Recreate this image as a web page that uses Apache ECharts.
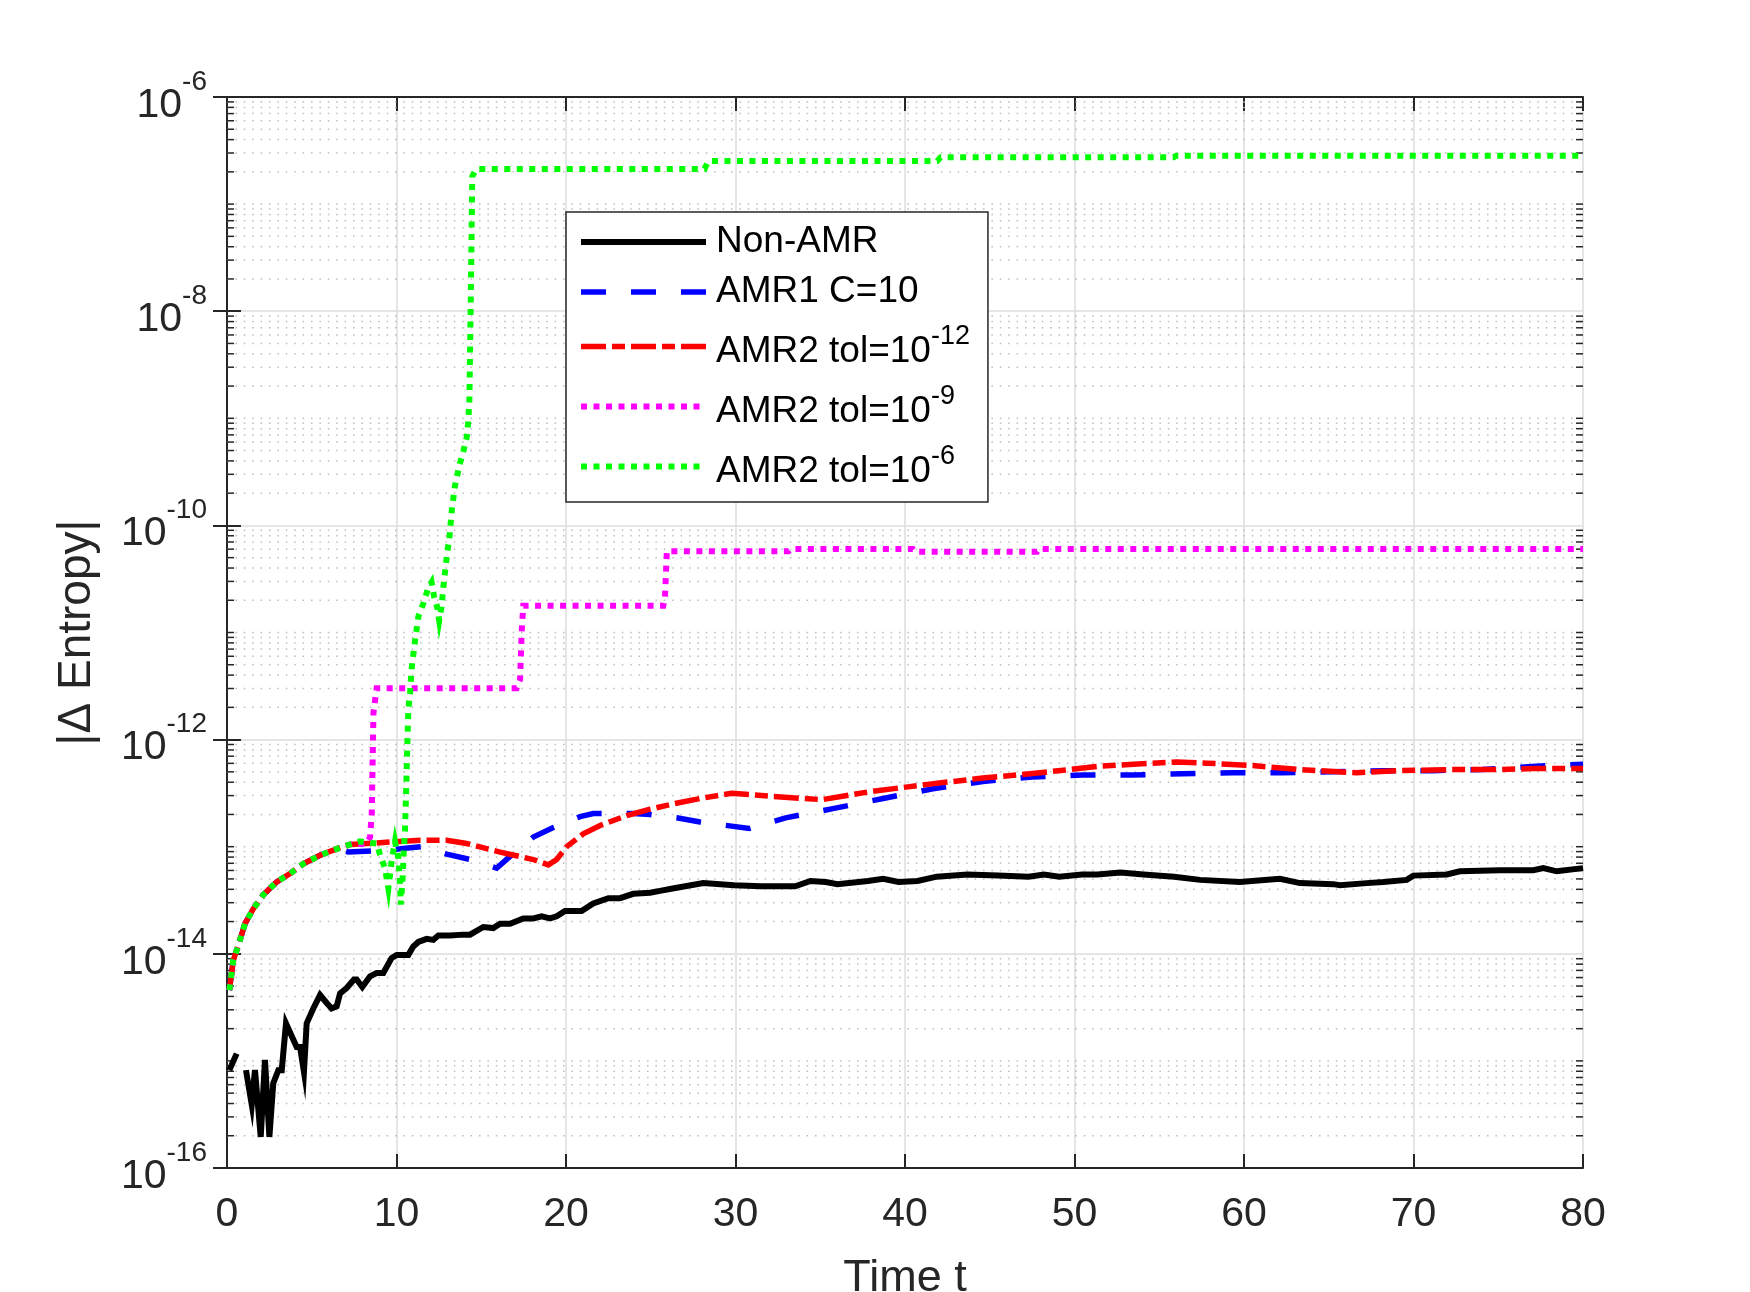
<!DOCTYPE html>
<html>
<head>
<meta charset="utf-8">
<script src="https://cdn.jsdelivr.net/npm/echarts@6/dist/echarts.min.js"></script>
<style>
  html, body { margin: 0; padding: 0; background: #fff; }
  #chart { width: 1750px; height: 1292px; }
</style>
</head>
<body>
<div id="chart"></div>
<script>
// time axis values and |delta entropy|
const nonAmrT = [0.14, 0.57, 0.85, 1.12, 1.46, 1.65, 1.99, 2.24, 2.50, 2.73, 3.03, 3.23, 3.48, 4.11, 4.31, 4.54, 4.70, 5.09, 5.49, 5.88,
  6.17, 6.47, 6.67, 7.06, 7.49, 7.65, 7.98, 8.44, 8.83, 9.22, 9.71, 10.01, 10.70, 10.99, 11.29, 11.78, 12.17, 12.47, 13.16, 13.94,
  14.34, 15.12, 15.71, 16.11, 16.70, 17.48, 18.07, 18.56, 19.06, 19.45, 19.94, 20.43, 20.92, 21.61, 22.50, 23.19, 23.97, 24.96, 25.62, 26.29,
  28.10, 29.91, 31.49, 33.52, 34.42, 35.33, 36.01, 37.81, 38.71, 39.62, 40.74, 41.87, 43.68, 45.49, 47.29, 48.20, 49.10, 50.45, 51.36, 52.71,
  54.07, 55.87, 57.41, 59.76, 62.12, 63.30, 65.27, 65.66, 67.24, 68.22, 69.60, 69.99, 71.96, 72.74, 75.10, 77.07, 77.66, 78.45, 80.00];
const nonAmrV = [8.2e-16, 1.17e-15, null, 8.2e-16, 3.9e-16, 8.2e-16, 1.95e-16, 1.02e-15, 1.95e-16, 6.2e-16, 8.2e-16, 8.2e-16, 2.24e-15, 1.35e-15, 1.35e-15, 7.9e-16, 2.24e-15, 3.09e-15, 4.12e-15, 3.47e-15,
  3.09e-15, 3.24e-15, 4.27e-15, 4.79e-15, 5.75e-15, 5.75e-15, 4.9e-15, 6.17e-15, 6.61e-15, 6.61e-15, 9.12e-15, 9.77e-15, 9.77e-15, 1.17e-14, 1.29e-14, 1.38e-14, 1.35e-14, 1.48e-14, 1.48e-14, 1.51e-14,
  1.51e-14, 1.78e-14, 1.74e-14, 1.91e-14, 1.91e-14, 2.14e-14, 2.14e-14, 2.24e-14, 2.14e-14, 2.24e-14, 2.51e-14, 2.51e-14, 2.51e-14, 2.95e-14, 3.31e-14, 3.31e-14, 3.63e-14, 3.72e-14, 3.89e-14, 4.07e-14,
  4.57e-14, 4.37e-14, 4.27e-14, 4.27e-14, 4.79e-14, 4.68e-14, 4.47e-14, 4.79e-14, 5.01e-14, 4.68e-14, 4.79e-14, 5.25e-14, 5.5e-14, 5.37e-14, 5.25e-14, 5.5e-14, 5.25e-14, 5.5e-14, 5.5e-14, 5.75e-14,
  5.5e-14, 5.25e-14, 4.9e-14, 4.68e-14, 5.01e-14, 4.57e-14, 4.47e-14, 4.37e-14, 4.57e-14, 4.68e-14, 4.9e-14, 5.37e-14, 5.5e-14, 5.89e-14, 6.03e-14, 6.03e-14, 6.31e-14, 5.89e-14, 6.31e-14];

const amr1T = [0.14, 0.37, 0.67, 1.06, 1.55, 2.14, 2.93, 3.72, 4.50, 5.49, 6.47, 7.16, 8.53, 10.21, 11.49, 12.96, 14.34, 15.91, 16.70, 18.07,
  19.25, 20.83, 21.61, 23.97, 24.96, 26.53, 27.91, 30.81, 32.96, 35.89, 38.71, 41.65, 44.59, 47.52, 50.45, 53.42, 56.37, 59.32, 62.27, 65.22,
  68.17, 71.11, 74.06, 77.01, 80.00];
const amr1V = [4.57e-15, 8.71e-15, 1.2e-14, 1.91e-14, 2.63e-14, 3.55e-14, 4.68e-14, 5.62e-14, 6.92e-14, 8.32e-14, 9.55e-14, 8.91e-14, 9.12e-14, 9.55e-14, 1.0e-13, 8.51e-14, 7.59e-14, 6.31e-14, 8.13e-14, 1.23e-13,
  1.51e-13, 1.91e-13, 2.04e-13, 2.04e-13, 2.0e-13, 1.86e-13, 1.7e-13, 1.48e-13, 1.86e-13, 2.29e-13, 2.82e-13, 3.47e-13, 4.07e-13, 4.47e-13, 4.68e-13, 4.68e-13, 4.79e-13, 4.9e-13, 4.9e-13, 5.01e-13,
  5.13e-13, 5.13e-13, 5.25e-13, 5.62e-13, 5.89e-13];

const tol12T = [0.14, 0.37, 0.67, 1.06, 1.55, 2.14, 2.93, 3.72, 4.50, 5.49, 6.47, 7.26, 8.24, 10.21, 11.39, 12.96, 14.14, 16.11, 18.07, 18.96,
  19.45, 20.04, 21.02, 22.01, 23.58, 24.96, 26.33, 27.91, 29.79, 32.16, 35.10, 37.81, 41.20, 44.59, 47.97, 51.36, 53.47, 56.03, 57.80, 60.36,
  63.30, 66.65, 69.21, 72.16, 75.10, 77.07, 80.00];
const tol12V = [4.57e-15, 8.71e-15, 1.2e-14, 1.91e-14, 2.63e-14, 3.55e-14, 4.68e-14, 5.62e-14, 6.92e-14, 8.32e-14, 9.55e-14, 1.05e-13, 1.07e-13, 1.12e-13, 1.15e-13, 1.15e-13, 1.07e-13, 8.91e-14, 7.59e-14, 6.76e-14,
  7.59e-14, 1.0e-13, 1.32e-13, 1.58e-13, 1.95e-13, 2.24e-13, 2.51e-13, 2.82e-13, 3.16e-13, 2.95e-13, 2.75e-13, 3.24e-13, 3.8e-13, 4.37e-13, 4.9e-13, 5.62e-13, 5.89e-13, 6.17e-13, 6.03e-13, 5.75e-13,
  5.25e-13, 4.9e-13, 5.13e-13, 5.25e-13, 5.25e-13, 5.37e-13, 5.37e-13];

const tol9T = [0.14, 0.37, 0.67, 1.06, 1.55, 2.14, 2.93, 3.72, 4.50, 5.49, 6.47, 7.26, 8.24, 8.44, 8.54, 8.64, 8.83, 17.09, 17.29, 17.39,
  17.48, 25.74, 25.84, 25.95, 33.13, 33.25, 40.46, 40.60, 47.79, 47.90, 80.00];
const tol9V = [4.57e-15, 8.71e-15, 1.2e-14, 1.91e-14, 2.63e-14, 3.55e-14, 4.68e-14, 5.62e-14, 6.92e-14, 8.32e-14, 9.55e-14, 1.05e-13, 1.07e-13, 1.23e-13, 2.04e-13, 1.78e-12, 3.02e-12, 3.02e-12, 3.63e-12, 1.05e-11,
  1.78e-11, 1.78e-11, 2.14e-11, 5.75e-11, 5.75e-11, 6.03e-11, 6.03e-11, 5.69e-11, 5.69e-11, 6.03e-11, 6.03e-11];

const tol6T = [0.14, 0.37, 0.67, 1.06, 1.55, 2.14, 2.93, 3.72, 4.50, 5.49, 6.47, 7.26, 7.85, 8.83, 9.02, 9.32, 9.52, 9.71, 9.91, 10.11,
  10.21, 10.25, 10.37, 10.44, 10.50, 10.56, 10.64, 10.70, 10.80, 10.89, 11.09, 11.29, 11.58, 11.88, 12.07, 12.21, 12.41, 12.52, 12.66, 12.76,
  12.86, 13.00, 13.12, 13.26, 13.45, 13.71, 13.94, 14.14, 14.24, 14.30, 14.37, 14.43, 14.47, 14.72, 28.17, 28.40, 41.90, 42.10, 55.85, 56.00, 80.00];
const tol6V = [4.57e-15, 8.71e-15, 1.2e-14, 1.91e-14, 2.63e-14, 3.55e-14, 4.68e-14, 5.62e-14, 6.92e-14, 8.32e-14, 9.55e-14, 1.05e-13, 1.12e-13, 1.07e-13, 8.51e-14, 6.31e-14, 4.07e-14, 7.24e-14, 1.12e-13, 7.76e-14,
  4.68e-14, 2.88e-14, 5.37e-14, 9.77e-14, 1.41e-13, 2.95e-13, 9.12e-13, 1.91e-12, 2.75e-12, 4.57e-12, 8.32e-12, 1.41e-11, 1.86e-11, 2.63e-11, 2.95e-11, 2.19e-11, 1.7e-11, 1.29e-11, 1.74e-11, 2.63e-11,
  3.63e-11, 5.75e-11, 7.59e-11, 1.38e-10, 2.34e-10, 3.63e-10, 4.9e-10, 6.61e-10, 9.55e-10, 1.48e-9, 9.55e-9, 5.37e-8, 1.82e-7, 2.13e-7, 2.13e-7, 2.52e-7, 2.52e-7, 2.74e-7, 2.74e-7, 2.83e-7, 2.83e-7];

const seriesNames = ['Non-AMR', 'AMR1 C=10', 'AMR2 tol=10^-12', 'AMR2 tol=10^-9', 'AMR2 tol=10^-6'];
const xTicks = [0, 10, 20, 30, 40, 50, 60, 70, 80];

const ink = '#262626';
const font = 'Liberation Sans';

function pairs(ts, vs) {
  return ts.map(function (t, i) { return [t, vs[i]]; });
}

// minor log ticks: 2..9 x 10^k plus the odd decades (major step is two decades)
const minorTicks = [];
for (let k = -16; k < -6; k++) {
  if ((k + 16) % 2 === 1) minorTicks.push([0, Math.pow(10, k)]);
  for (let m = 2; m <= 9; m++) minorTicks.push([0, m * Math.pow(10, k)]);
}

const chart = echarts.init(document.getElementById('chart'));

const supRich = {
  n: { fontSize: 41, lineHeight: 40, verticalAlign: 'bottom', color: ink, fontFamily: font },
  s: { fontSize: 28, lineHeight: 50, verticalAlign: 'top', color: ink, fontFamily: font },
  z: { fontSize: 1, lineHeight: 58, width: 0 }
};

const legendRich = {
  n: { fontSize: 37, lineHeight: 36, verticalAlign: 'bottom', color: '#000', fontFamily: font, padding: [0, 0, 0, 5] },
  s: { fontSize: 27, lineHeight: 47, verticalAlign: 'top', color: '#000', fontFamily: font }
};

const styles = [
  { color: '#000000', type: 'solid', width: 6 },
  { color: '#0000ff', type: [25, 25], width: 5.5 },
  { color: '#ff0000', type: [25, 6, 13, 6], width: 5.5 },
  { color: '#ff00ff', type: [6, 6.5], width: 6 },
  { color: '#00ff00', type: [6, 6.5], width: 6 }
];

function lineSeries(i, ts, vs) {
  const st = styles[i];
  return {
    name: seriesNames[i],
    type: 'line',
    data: pairs(ts, vs),
    symbol: 'none',
    connectNulls: false,
    animation: false,
    lineStyle: { color: st.color, width: st.width, type: st.type, cap: 'butt', join: 'miter' },
    itemStyle: { color: st.color }
  };
}

const option = {
  backgroundColor: '#fff',
  animation: false,
  textStyle: { fontFamily: font, color: ink },
  grid: { left: 227, top: 97, right: 167, bottom: 124, containLabel: false, outerBoundsMode: 'none' },
  legend: {
    data: seriesNames.map(function (name, i) {
      return {
        name: name,
        itemStyle: { opacity: 0 },
        lineStyle: { width: styles[i].width, type: styles[i].type, color: styles[i].color, cap: 'butt' }
      };
    }),
    orient: 'vertical',
    left: 566,
    top: 212,
    padding: [11, 18, 12, 12],
    itemGap: 13,
    itemWidth: 125,
    itemHeight: 14,
    backgroundColor: '#fff',
    borderColor: ink,
    borderWidth: 1.5,
    borderRadius: 0,
    selectedMode: false,
    formatter: function (name) {
      const m = name.match(/^(.*)\^(-?\d+)$/);
      return m ? '{n|' + m[1] + '}{s|' + m[2] + '}' : '{n|' + name + '}';
    },
    textStyle: { rich: legendRich }
  },
  xAxis: [{
    type: 'value',
    min: 0, max: 80, interval: 10,
    name: 'Time t',
    nameLocation: 'middle',
    nameGap: 88,
    nameTextStyle: { fontSize: 45, color: ink, fontFamily: font },
    axisLine: { lineStyle: { color: ink, width: 2 } },
    axisTick: { inside: true, length: 14, lineStyle: { color: ink, width: 2 } },
    axisLabel: {
      margin: 26, fontSize: 41, lineHeight: 41, color: ink, fontFamily: font,
      formatter: function (v) { return xTicks.indexOf(v) >= 0 ? String(v) : ''; }
    },
    splitLine: { show: true, lineStyle: { color: '#dcdcdc', width: 1.5 } }
  }, {
    type: 'value',
    position: 'top',
    min: 0, max: 80, interval: 10,
    axisLine: { lineStyle: { color: ink, width: 2 } },
    axisTick: { inside: true, length: 14, lineStyle: { color: ink, width: 2 } },
    axisLabel: { show: false },
    splitLine: { show: false }
  }],
  yAxis: [{
    type: 'log',
    logBase: 10,
    min: 1e-16, max: 1e-6, interval: 2,
    name: '|\u0394 Entropy|',
    nameLocation: 'middle',
    nameGap: 127,
    nameTextStyle: { fontSize: 46, color: ink, fontFamily: font },
    axisLine: { lineStyle: { color: ink, width: 2 } },
    axisTick: { inside: true, length: 14, lineStyle: { color: ink, width: 2 } },
    axisLabel: {
      margin: 20,
      formatter: function (v) {
        const e = Math.round(Math.log10(v));
        return '{z| }{n|10}{s|' + e + '}';
      },
      rich: supRich
    },
    splitLine: { show: true, lineStyle: { color: '#dcdcdc', width: 1.5 } }
  }, {
    type: 'log',
    logBase: 10,
    position: 'right',
    min: 1e-16, max: 1e-6, interval: 2,
    axisLine: { lineStyle: { color: ink, width: 2 } },
    axisTick: { inside: true, length: 14, lineStyle: { color: ink, width: 2 } },
    axisLabel: { show: false },
    splitLine: { show: false }
  }],
  series: [
    {
      name: 'minor',
      type: 'custom',
      silent: true,
      z: 1,
      animation: false,
      data: minorTicks,
      renderItem: function (params, api) {
        const v = api.value(1);
        const a = api.coord([0, v]);
        const b = api.coord([80, v]);
        return {
          type: 'group',
          children: [
            { type: 'line', shape: { x1: a[0], y1: a[1], x2: b[0], y2: b[1] },
              style: { stroke: '#bdbdbd', lineWidth: 1.5, lineDash: [1.5, 6.9] } },
            { type: 'line', shape: { x1: a[0], y1: a[1], x2: a[0] + 7, y2: a[1] },
              style: { stroke: ink, lineWidth: 1.5 } },
            { type: 'line', shape: { x1: b[0] - 7, y1: b[1], x2: b[0], y2: b[1] },
              style: { stroke: ink, lineWidth: 1.5 } }
          ]
        };
      }
    },
    lineSeries(0, nonAmrT, nonAmrV),
    lineSeries(1, amr1T, amr1V),
    lineSeries(2, tol12T, tol12V),
    lineSeries(3, tol9T, tol9V),
    lineSeries(4, tol6T, tol6V)
  ]
};

chart.setOption(option);
</script>
</body>
</html>
